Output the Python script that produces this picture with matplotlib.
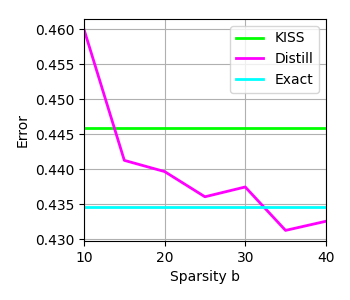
import matplotlib
matplotlib.use("Agg")
import matplotlib.pyplot as plt

sparsity = [10, 15, 20, 25, 30, 35, 40]
distill = [0.4600, 0.4413, 0.4397, 0.4361, 0.4375, 0.4313, 0.4326]
kiss = 0.4459
exact = 0.4346

fig = plt.figure(figsize=(3.5, 3.0), dpi=100)
ax = fig.add_axes([0.24, 0.197, 0.691, 0.74])
ax.plot([sparsity[0], sparsity[-1]], [kiss, kiss], color='#00ff00', lw=2, label='KISS')
ax.plot(sparsity, distill, color='#ff00ff', lw=2, label='Distill')
ax.plot([sparsity[0], sparsity[-1]], [exact, exact], color='#00ffff', lw=2, label='Exact')
ax.set_xlim(10, 40)
ax.set_ylim(0.4298, 0.4615)
ax.set_xticks([10, 20, 30, 40])
ax.set_yticks([0.430, 0.435, 0.440, 0.445, 0.450, 0.455, 0.460])
ax.yaxis.set_major_formatter(matplotlib.ticker.FormatStrFormatter('%.3f'))
ax.grid(True)
ax.set_xlabel('Sparsity b')
ax.set_ylabel('Error')
ax.legend(loc='upper right')
fig.savefig('out.png', dpi=100)
